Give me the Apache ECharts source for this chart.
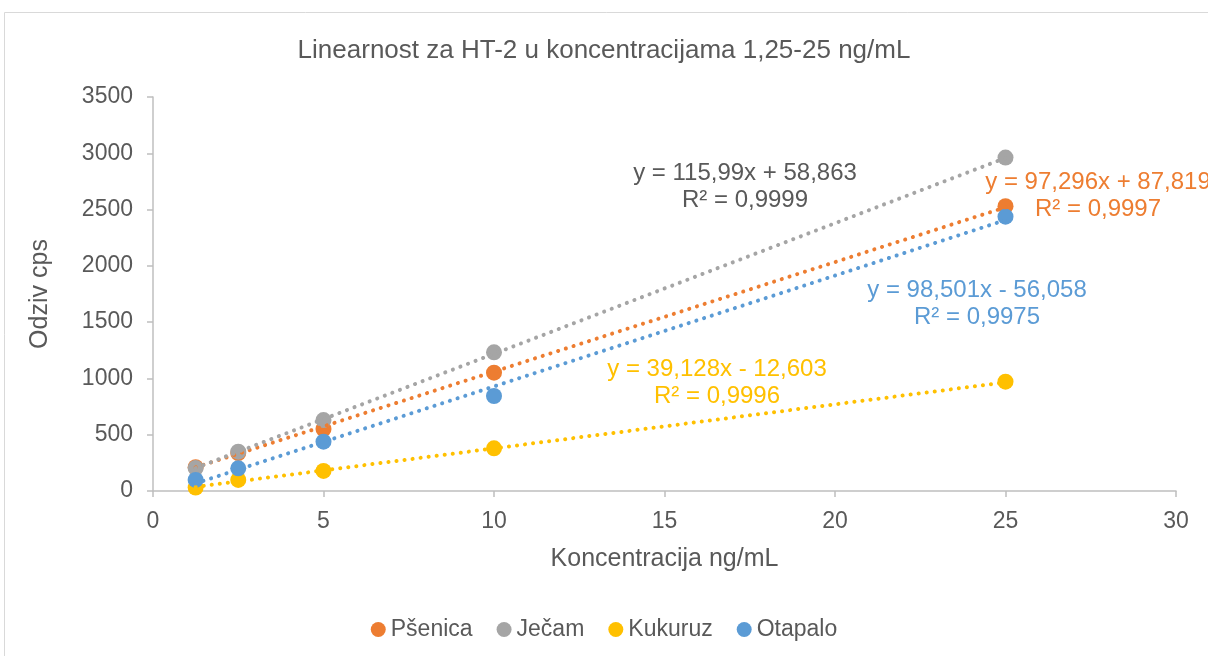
<!DOCTYPE html>
<html>
<head>
<meta charset="utf-8">
<script src="https://cdn.jsdelivr.net/npm/echarts@6/dist/echarts.min.js"></script>
<style>
  html, body { margin: 0; padding: 0; background: #fff; }
  #chart { width: 1208px; height: 656px; }
</style>
</head>
<body>
<div id="chart"></div>
<script>
// concentrations (ng/mL)
const conc = [1.25, 2.5, 5, 10, 25];

const seriesNames = ['Pšenica', 'Ječam', 'Kukuruz', 'Otapalo'];
const colors = ['#ED7D31', '#A5A5A5', '#FFC000', '#5B9BD5'];

// responses
const psenica = [212, 337, 551, 1051, 2530];
const jecam = [204, 349, 630, 1232, 2962];
const kukuruz = [30, 98, 178, 379, 971];
const otapalo = [98, 201, 438, 844, 2437];

// trendline coefficients as printed on the chart
const slopes = [97.296, 115.99, 39.128, 98.501];
const intercepts = [87.819, 58.863, -12.603, -56.058];
const eqLabels = [
  ['y = 97,296x + 87,819', 'R² = 0,9997'],
  ['y = 115,99x + 58,863', 'R² = 0,9999'],
  ['y = 39,128x - 12,603', 'R² = 0,9996'],
  ['y = 98,501x - 56,058', 'R² = 0,9975']
];

const values = [psenica, jecam, kukuruz, otapalo];
const font = 'Liberation Sans, Arial, sans-serif';
const textColor = '#595959';

const chart = echarts.init(document.getElementById('chart'));

const trendSeries = seriesNames.map((name, i) => {
  const x0 = conc[0], x1 = conc[conc.length - 1];
  return {
    name: name + ' trend',
    type: 'line',
    data: [[x0, slopes[i] * x0 + intercepts[i]], [x1, slopes[i] * x1 + intercepts[i]]],
    showSymbol: false,
    silent: true,
    z: 3,
    lineStyle: { color: colors[i], width: 4, type: [0.1, 8], cap: 'round' }
  };
});

const pointSeries = seriesNames.map((name, i) => ({
  name: name,
  type: 'scatter',
  data: conc.map((c, k) => [c, values[i][k]]),
  symbol: 'circle',
  symbolSize: 16,
  z: 2,
  itemStyle: { color: colors[i], opacity: 1 }
}));

// equation label positions (pixels) and colours
const eqPos = [[1098, 182], [745, 173], [717, 369], [977, 290]];
const eqColors = ['#ED7D31', textColor, '#FFC000', '#5B9BD5'];

const graphics = [{
  type: 'rect',
  shape: { x: 4.5, y: 12.5, width: 1230, height: 680 },
  style: { fill: 'none', stroke: '#d9d9d9', lineWidth: 1 },
  silent: true
}];
eqLabels.forEach((lines, i) => {
  lines.forEach((t, j) => {
    graphics.push({
      type: 'text',
      x: eqPos[i][0],
      y: eqPos[i][1] + j * 27,
      z: 10,
      style: {
        text: t,
        fill: eqColors[i],
        font: '24px ' + font,
        textAlign: 'center',
        textVerticalAlign: 'middle'
      }
    });
  });
});

chart.setOption({
  animation: false,
  backgroundColor: '#fff',
  title: {
    text: 'Linearnost za HT-2 u koncentracijama 1,25-25 ng/mL',
    left: 'center',
    top: 33,
    textStyle: { color: textColor, fontFamily: font, fontSize: 26, fontWeight: 'normal' }
  },
  legend: {
    data: seriesNames,
    bottom: 10,
    left: 'center',
    icon: 'circle',
    itemWidth: 15,
    itemHeight: 15,
    itemGap: 24,
    textStyle: { color: textColor, fontFamily: font, fontSize: 23 }
  },
  grid: { left: 153, right: 32, top: 97, bottom: 165 },
  xAxis: {
    type: 'value',
    min: 0,
    max: 30,
    interval: 5,
    name: 'Koncentracija ng/mL',
    nameLocation: 'middle',
    nameGap: 56,
    nameTextStyle: { color: textColor, fontFamily: font, fontSize: 25 },
    axisLine: { lineStyle: { color: '#bfbfbf', width: 1.5 } },
    axisTick: { show: true, length: 6, lineStyle: { color: '#bfbfbf', width: 1.5 } },
    axisLabel: { color: textColor, fontFamily: font, fontSize: 23, margin: 19 },
    splitLine: { show: false }
  },
  yAxis: {
    type: 'value',
    min: 0,
    max: 3500,
    interval: 500,
    name: 'Odziv cps',
    nameLocation: 'middle',
    nameGap: 100,
    nameTextStyle: { color: textColor, fontFamily: font, fontSize: 25 },
    axisLine: { show: true, lineStyle: { color: '#bfbfbf', width: 1.5 } },
    axisTick: { show: true, length: 6, lineStyle: { color: '#bfbfbf', width: 1.5 } },
    axisLabel: {
      color: textColor, fontFamily: font, fontSize: 23, margin: 20,
      formatter: v => String(v)
    },
    splitLine: { show: false }
  },
  series: pointSeries.concat(trendSeries),
  graphic: graphics
});
</script>
</body>
</html>
